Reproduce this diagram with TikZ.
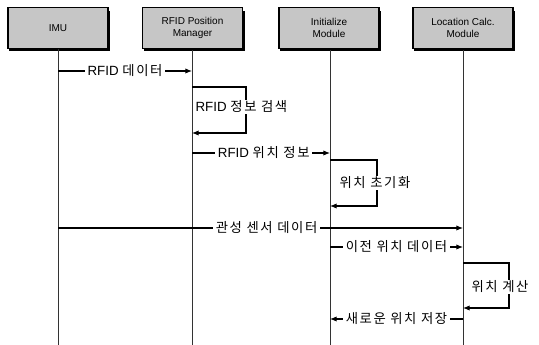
\documentclass[tikz,border=0pt]{standalone}
\usepackage{fontspec}
\setmainfont{Liberation Sans}
\newfontfamily\kr[LetterSpace=12]{Noto Sans CJK KR}
\usetikzlibrary{arrows.meta}
\begin{document}
\begin{tikzpicture}[x=0.75pt,y=-0.75pt,
  box/.style={draw=black,line width=0.8pt,fill=gray!45,minimum width=75pt,minimum height=30.5pt,
    align=center,font=\fontsize{7.5}{9.5}\selectfont,inner sep=1pt},
  life/.style={draw=black!80,line width=0.7pt},
  msg/.style={draw=black,line width=0.8pt,-{Latex[length=5pt,width=4pt]}},
  lbl/.style={fill=white,inner xsep=2pt,inner ysep=1pt,font=\fontsize{10}{12}\selectfont},
  loopl/.style={fill=white,inner xsep=1pt,inner ysep=1pt,font=\fontsize{10}{12}\selectfont,anchor=west}]
\useasboundingbox (0,0) rectangle (539,345);
\fill[white] (0,0) rectangle (539,345);
% shadows
\foreach \cx in {58,192.5,329,463}{
  \fill[black] (\cx-49,11) rectangle (\cx+52,51);
}
\node[box] (imu) at (58,28) {IMU};
\node[box] (rfid) at (192.5,28) {RFID Position\\Manager};
\node[box] (init) at (329,28) {Initialize\\Module};
\node[box] (loc) at (463,28) {Location Calc.\\Module};
% lifelines
\coordinate (imuE) at (58,345);
\coordinate (rfidE) at (192,345);
\coordinate (initE) at (330,345);
\coordinate (locE) at (463,345);
\draw[life] (58,49) -- (imuE);
\draw[life] (192,50) -- (rfidE);
\draw[life] (330,50) -- (initE);
\draw[life] (463,50) -- (locE);
% message points
\coordinate (a1) at (58,71);  \coordinate (b1) at (192,71);
\coordinate (l1a) at (192,87); \coordinate (l1b) at (246,87); \coordinate (l1c) at (246,133); \coordinate (l1d) at (192,133);
\coordinate (a3) at (192,153); \coordinate (b3) at (330,153);
\coordinate (l2a) at (330,160); \coordinate (l2b) at (377,160); \coordinate (l2c) at (377,206); \coordinate (l2d) at (330,206);
\coordinate (a5) at (58,228); \coordinate (b5) at (463,228);
\coordinate (a6) at (330,247); \coordinate (b6) at (463,247);
\coordinate (l3a) at (463,263); \coordinate (l3b) at (509,263); \coordinate (l3c) at (509,308); \coordinate (l3d) at (463,308);
\coordinate (a8) at (463,319); \coordinate (b8) at (330,319);
% messages
\draw[msg] (a1) -- node[lbl,pos=0.5] {RFID {\kr 데이터}} (b1);
\draw[msg] (l1a) -- (l1b) -- (l1c) -- (l1d);
\node[loopl] (t2) at (194,107) {RFID {\kr 정보 검색}};
\draw[msg] (a3) -- node[lbl,pos=0.52] {RFID {\kr 위치 정보}} (b3);
\draw[msg] (l2a) -- (l2b) -- (l2c) -- (l2d);
\node[loopl] (t4) at (338,183) {\kr 위치 초기화};
\draw[msg] (a5) -- node[lbl,pos=0.515] {\kr 관성 센서 데이터} (b5);
\draw[msg] (a6) -- node[lbl,pos=0.5] {\kr 이전 위치 데이터} (b6);
\draw[msg] (l3a) -- (l3b) -- (l3c) -- (l3d);
\node[loopl] (t7) at (470,287) {\kr 위치 계산};
\draw[msg] (a8) -- node[lbl,pos=0.5] {\kr 새로운 위치 저장} (b8);
\end{tikzpicture}
\end{document}
